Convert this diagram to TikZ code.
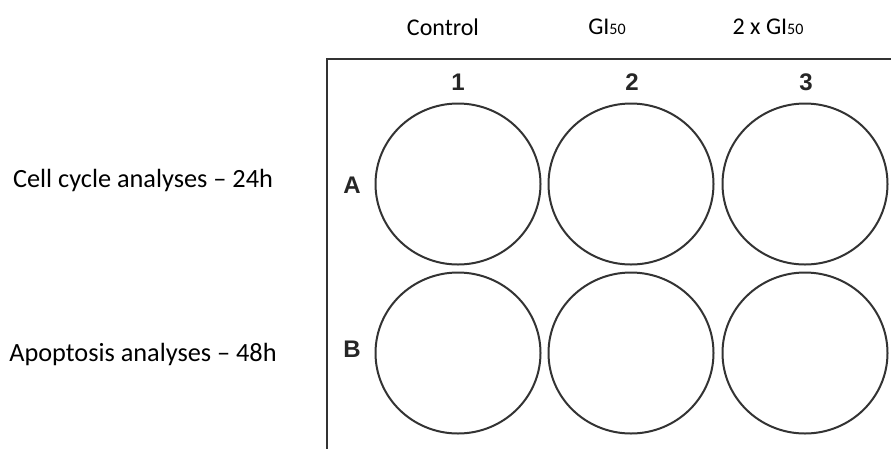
\documentclass[tikz,border=0pt]{standalone}
\usepackage{fontspec}
\setmainfont{Carlito}
\newfontfamily\arialbold{Liberation Sans}[UprightFont=* Bold]
\usetikzlibrary{shapes.geometric}
\newcommand{\smallfifty}{{\fontsize{16}{18}\selectfont 50}}
\begin{document}
\begin{tikzpicture}[x=1pt,y=-1pt,
  lbl/.style={font=\fontsize{24}{28}\selectfont, inner sep=0pt, anchor=center},
  side/.style={font=\fontsize{26.3}{30}\selectfont, inner sep=0pt, anchor=center},
  wlbl/.style={font=\arialbold\fontsize{24}{28}\selectfont, inner sep=0pt, text=black!85},
  well/.style={ellipse, draw=black!80, line width=2pt, minimum width=165pt, minimum height=161pt, inner sep=0pt},
  plate/.style={draw=black!80, line width=2.4pt}]
\useasboundingbox (0,0) rectangle (891,448);
% top labels
\node[lbl] (ctrl) at (443,27) {Control};
\node[lbl] (gi) at (607,27) {GI\smallfifty};
\node[lbl] (gi2) at (768,27) {2 x GI\smallfifty};
% side labels
\node[side] (cc) at (143,180) {Cell cycle analyses – 24h};
\node[side] (ap) at (143,354) {Apoptosis analyses – 48h};
% plate border
\coordinate (tr) at (893,59);
\coordinate (tl) at (327,59);
\coordinate (bl) at (327,450);
\draw[plate] (tr) -- (tl) -- (bl);
% column and row labels
\node[wlbl] (c1) at (458,82) {1};
\node[wlbl] (c2) at (632,82) {2};
\node[wlbl] (c3) at (806,82) {3};
\node[wlbl] (rA) at (352,185) {A};
\node[wlbl] (rB) at (352,349) {B};
% wells
\node[well] (A1) at (458,184) {};
\node[well] (A2) at (631,184) {};
\node[well] (A3) at (805,184) {};
\node[well] (B1) at (458,353) {};
\node[well] (B2) at (631,353) {};
\node[well] (B3) at (805,353) {};
\end{tikzpicture}
\end{document}
